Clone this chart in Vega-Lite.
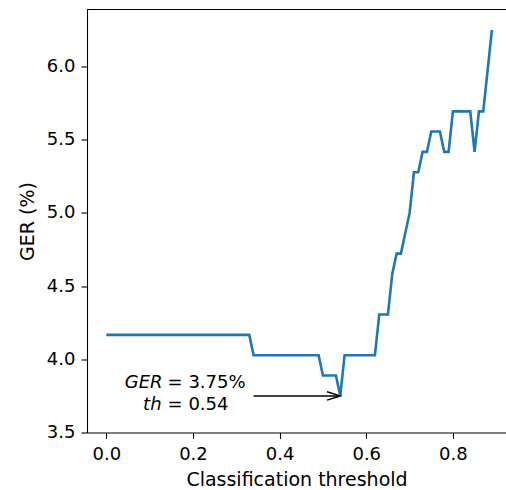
{
  "$schema": "https://vega.github.io/schema/vega-lite/v6.json",
  "autosize": "none",
  "padding": {"left": 87, "top": 9.5, "right": 0, "bottom": 57.5},
  "width": 419,
  "height": 423,
  "background": "white",
  "config": {
    "view": {"stroke": null},
    "font": "DejaVu Sans",
    "axis": {
      "domainColor": "black",
      "domainWidth": 1.1,
      "tickColor": "black",
      "tickWidth": 1.1,
      "tickSize": 6,
      "grid": false,
      "labelFont": "DejaVu Sans",
      "labelFontSize": 18,
      "labelColor": "black",
      "titleFont": "DejaVu Sans",
      "titleFontSize": 19,
      "titleFontWeight": "normal",
      "titleColor": "black"
    }
  },
  "layer": [
    {
      "data": {
        "values": [
          {"threshold": 0.00, "ger": 4.167}, {"threshold": 0.01, "ger": 4.167}, {"threshold": 0.02, "ger": 4.167},
          {"threshold": 0.03, "ger": 4.167}, {"threshold": 0.04, "ger": 4.167}, {"threshold": 0.05, "ger": 4.167},
          {"threshold": 0.06, "ger": 4.167}, {"threshold": 0.07, "ger": 4.167}, {"threshold": 0.08, "ger": 4.167},
          {"threshold": 0.09, "ger": 4.167}, {"threshold": 0.10, "ger": 4.167}, {"threshold": 0.11, "ger": 4.167},
          {"threshold": 0.12, "ger": 4.167}, {"threshold": 0.13, "ger": 4.167}, {"threshold": 0.14, "ger": 4.167},
          {"threshold": 0.15, "ger": 4.167}, {"threshold": 0.16, "ger": 4.167}, {"threshold": 0.17, "ger": 4.167},
          {"threshold": 0.18, "ger": 4.167}, {"threshold": 0.19, "ger": 4.167}, {"threshold": 0.20, "ger": 4.167},
          {"threshold": 0.21, "ger": 4.167}, {"threshold": 0.22, "ger": 4.167}, {"threshold": 0.23, "ger": 4.167},
          {"threshold": 0.24, "ger": 4.167}, {"threshold": 0.25, "ger": 4.167}, {"threshold": 0.26, "ger": 4.167},
          {"threshold": 0.27, "ger": 4.167}, {"threshold": 0.28, "ger": 4.167}, {"threshold": 0.29, "ger": 4.167},
          {"threshold": 0.30, "ger": 4.167}, {"threshold": 0.31, "ger": 4.167}, {"threshold": 0.32, "ger": 4.167},
          {"threshold": 0.33, "ger": 4.167}, {"threshold": 0.34, "ger": 4.028}, {"threshold": 0.35, "ger": 4.028},
          {"threshold": 0.36, "ger": 4.028}, {"threshold": 0.37, "ger": 4.028}, {"threshold": 0.38, "ger": 4.028},
          {"threshold": 0.39, "ger": 4.028}, {"threshold": 0.40, "ger": 4.028}, {"threshold": 0.41, "ger": 4.028},
          {"threshold": 0.42, "ger": 4.028}, {"threshold": 0.43, "ger": 4.028}, {"threshold": 0.44, "ger": 4.028},
          {"threshold": 0.45, "ger": 4.028}, {"threshold": 0.46, "ger": 4.028}, {"threshold": 0.47, "ger": 4.028},
          {"threshold": 0.48, "ger": 4.028}, {"threshold": 0.49, "ger": 4.028}, {"threshold": 0.50, "ger": 3.889},
          {"threshold": 0.51, "ger": 3.889}, {"threshold": 0.52, "ger": 3.889}, {"threshold": 0.53, "ger": 3.889},
          {"threshold": 0.54, "ger": 3.75}, {"threshold": 0.55, "ger": 4.028}, {"threshold": 0.56, "ger": 4.028},
          {"threshold": 0.57, "ger": 4.028}, {"threshold": 0.58, "ger": 4.028}, {"threshold": 0.59, "ger": 4.028},
          {"threshold": 0.60, "ger": 4.028}, {"threshold": 0.61, "ger": 4.028}, {"threshold": 0.62, "ger": 4.028},
          {"threshold": 0.63, "ger": 4.306}, {"threshold": 0.64, "ger": 4.306}, {"threshold": 0.65, "ger": 4.306},
          {"threshold": 0.66, "ger": 4.583}, {"threshold": 0.67, "ger": 4.722}, {"threshold": 0.68, "ger": 4.722},
          {"threshold": 0.69, "ger": 4.861}, {"threshold": 0.70, "ger": 5.0}, {"threshold": 0.71, "ger": 5.278},
          {"threshold": 0.72, "ger": 5.278}, {"threshold": 0.73, "ger": 5.417}, {"threshold": 0.74, "ger": 5.417},
          {"threshold": 0.75, "ger": 5.556}, {"threshold": 0.76, "ger": 5.556}, {"threshold": 0.77, "ger": 5.556},
          {"threshold": 0.78, "ger": 5.417}, {"threshold": 0.79, "ger": 5.417}, {"threshold": 0.80, "ger": 5.694},
          {"threshold": 0.81, "ger": 5.694}, {"threshold": 0.82, "ger": 5.694}, {"threshold": 0.83, "ger": 5.694},
          {"threshold": 0.84, "ger": 5.694}, {"threshold": 0.85, "ger": 5.417}, {"threshold": 0.86, "ger": 5.694},
          {"threshold": 0.87, "ger": 5.694}, {"threshold": 0.88, "ger": 5.972}, {"threshold": 0.89, "ger": 6.25}
        ]
      },
      "mark": {"type": "line", "color": "#1f77b4", "strokeWidth": 2.6, "clip": true},
      "encoding": {
        "x": {
          "field": "threshold", "type": "quantitative",
          "scale": {"domain": [-0.0445, 0.9225], "nice": false, "zero": false},
          "axis": {
            "title": "Classification threshold",
            "values": [0, 0.2, 0.4, 0.6, 0.8],
            "format": ".1f",
            "labelPadding": 7,
            "titlePadding": 7,
            "labelFlush": false
          }
        },
        "y": {
          "field": "ger", "type": "quantitative",
          "scale": {"domain": [3.5, 6.39], "nice": false, "zero": false},
          "axis": {
            "title": "GER (%)",
            "values": [3.5, 4.0, 4.5, 5.0, 5.5, 6.0],
            "format": ".1f",
            "labelPadding": 6,
            "titlePadding": 9,
            "labelFlush": false
          }
        }
      }
    },
    {
      "data": {"values": [{}]},
      "mark": {"type": "rule", "color": "black", "strokeWidth": 1.1},
      "encoding": {"y": {"datum": 6.39}}
    },
    {
      "data": {"values": [{}]},
      "mark": {"type": "rule", "color": "black", "strokeWidth": 1.5},
      "encoding": {"x": {"datum": 0.34}, "x2": {"datum": 0.536}, "y": {"datum": 3.75}}
    },
    {
      "data": {"values": [{}]},
      "mark": {"type": "point", "shape": "M-1,-0.32L0,0L-1,0.32", "size": 700, "filled": false, "stroke": "black", "strokeWidth": 1.5, "opacity": 1},
      "encoding": {"x": {"datum": 0.54}, "y": {"datum": 3.75}}
    },
    {
      "data": {"values": [{}]},
      "mark": {"type": "text", "text": "GER", "font": "DejaVu Sans", "fontStyle": "italic", "fontSize": 18, "align": "right", "baseline": "alphabetic", "dx": -5, "dy": -7.5, "color": "black"},
      "encoding": {"x": {"datum": 0.1415}, "y": {"datum": 3.75}}
    },
    {
      "data": {"values": [{}]},
      "mark": {"type": "text", "text": "= 3.75%", "font": "DejaVu Sans", "fontSize": 18, "align": "left", "baseline": "alphabetic", "dx": 0, "dy": -7.5, "color": "black"},
      "encoding": {"x": {"datum": 0.1415}, "y": {"datum": 3.75}}
    },
    {
      "data": {"values": [{}]},
      "mark": {"type": "text", "text": "th", "font": "DejaVu Sans", "fontStyle": "italic", "fontSize": 18, "align": "right", "baseline": "alphabetic", "dx": -6, "dy": 14.2, "color": "black"},
      "encoding": {"x": {"datum": 0.1415}, "y": {"datum": 3.75}}
    },
    {
      "data": {"values": [{}]},
      "mark": {"type": "text", "text": "= 0.54", "font": "DejaVu Sans", "fontSize": 18, "align": "left", "baseline": "alphabetic", "dx": 0, "dy": 14.2, "color": "black"},
      "encoding": {"x": {"datum": 0.1415}, "y": {"datum": 3.75}}
    }
  ]
}
